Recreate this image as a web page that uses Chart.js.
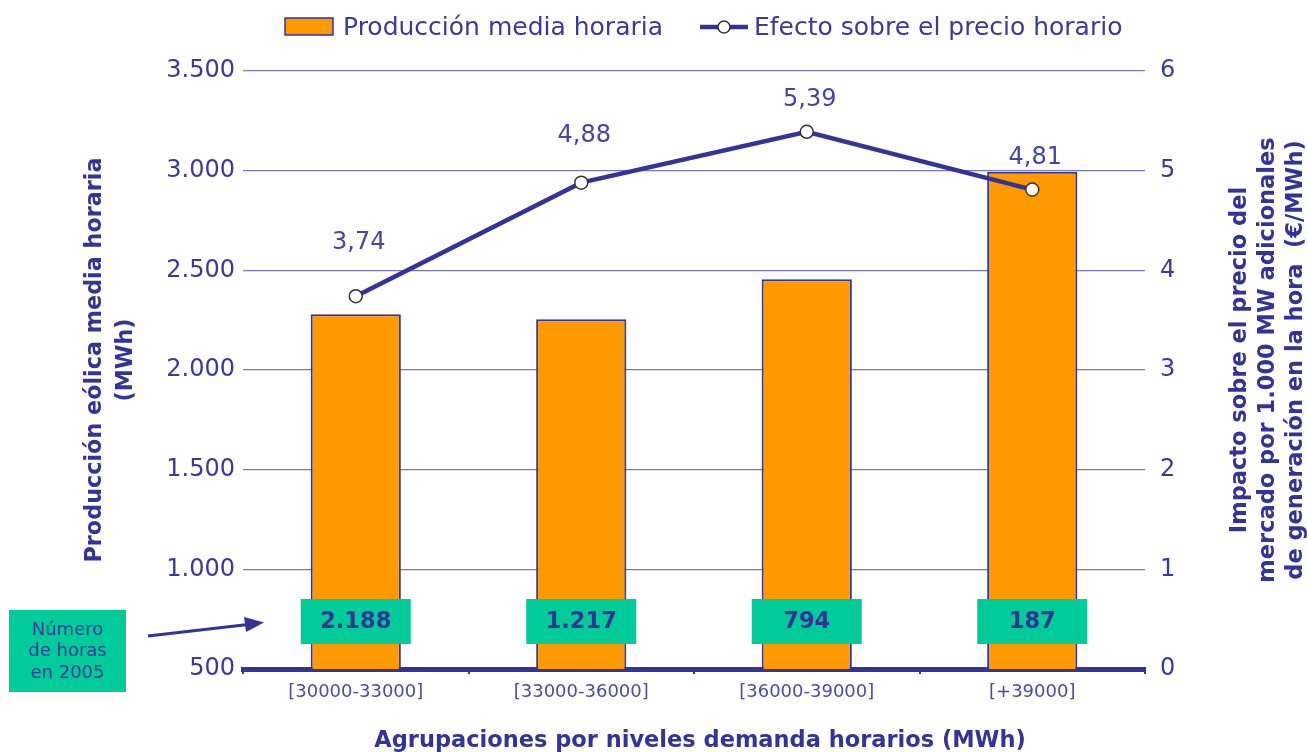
<!DOCTYPE html>
<html><head><meta charset="utf-8">
<script src="https://cdn.jsdelivr.net/npm/chart.js@4.4.1/dist/chart.umd.min.js"></script>
<style>html,body{margin:0;padding:0;background:#fff;}#wrap{width:1307px;height:752px;}</style>
</head><body><div id="wrap"><canvas id="c" width="1307" height="752"></canvas></div>
<script>
// ---- data ----
const categories = ['[30000-33000]', '[33000-36000]', '[36000-39000]', '[+39000]'];
const produccionMedia = [2280, 2255, 2455, 2995];      // MWh (left axis)
const efectoPrecio = [3.74, 4.88, 5.39, 4.81];         // €/MWh (right axis)
const numeroHoras = [2188, 1217, 794, 187];            // hours in 2005
const leftAxisMin = 500, leftAxisMax = 3500, leftAxisStep = 500;
const rightAxisMin = 0, rightAxisMax = 6, rightAxisStep = 1;
const seriesNames = ['Producción media horaria', 'Efecto sobre el precio horario'];
const xTitle = 'Agrupaciones por niveles demanda horarios (MWh)';
const leftTitle = ['Producción eólica media horaria', '(MWh)'];
const rightTitle = ['Impacto sobre el precio del', 'mercado por 1.000 MW adicionales', 'de generación en la hora  (€/MWh)'];
const noteLines = ['Número', 'de horas', 'en 2005'];

// ---- styles ----
const NAVY = '#333399';
const TXT = '#3a3a9c';
const ORANGE = '#ff9900';
const GREEN = '#00cc99';
const FONT = '"DejaVu Sans", Verdana, sans-serif';
const thousands = n => String(n).replace(/\B(?=(\d{3})+(?!\d))/g, '.');
const decimal = v => v.toFixed(2).replace('.', ',');

const overlay = {
  id: 'overlay',
  afterDraw(chart, args, o) {
    const ctx = chart.ctx;
    const xs = chart.scales.x;
    const area = chart.chartArea;
    ctx.save();
    // legend
    ctx.fillStyle = ORANGE; ctx.strokeStyle = NAVY; ctx.lineWidth = 1.5;
    ctx.fillRect(285, 18, 48, 17); ctx.strokeRect(285, 18, 48, 17);
    ctx.font = '25px ' + FONT; ctx.fillStyle = TXT; ctx.textBaseline = 'middle'; ctx.textAlign = 'left';
    ctx.fillText(seriesNames[0], 343, 28);
    ctx.strokeStyle = NAVY; ctx.lineWidth = 4.5;
    ctx.beginPath(); ctx.moveTo(700, 27); ctx.lineTo(748, 27); ctx.stroke();
    ctx.beginPath(); ctx.arc(724, 27, 6, 0, Math.PI * 2); ctx.fillStyle = '#fff'; ctx.fill();
    ctx.lineWidth = 1.5; ctx.strokeStyle = '#333'; ctx.stroke();
    ctx.fillStyle = TXT; ctx.fillText(seriesNames[1], 754, 28);

    // data labels on the line
    ctx.font = '24px ' + FONT; ctx.textAlign = 'center'; ctx.fillStyle = '#4444aa';
    const meta = chart.getDatasetMeta(1);
    meta.data.forEach((pt, i) => {
      ctx.fillText(decimal(efectoPrecio[i]), pt.x + 3, pt.y - o.labelOffsets[i]);
    });

    // green hour boxes
    ctx.font = 'bold 22.5px ' + FONT;
    numeroHoras.forEach((h, i) => {
      const cx = xs.getPixelForValue(i);
      const cy = area.bottom - 48;
      ctx.fillStyle = GREEN; ctx.fillRect(cx - 55, cy - 22, 110, 45);
      ctx.fillStyle = NAVY; ctx.fillText(thousands(h), cx, cy + 1);
    });

    // side note box
    ctx.fillStyle = GREEN; ctx.fillRect(9, 610, 117, 82);
    ctx.fillStyle = '#3a3a9c'; ctx.font = '18px ' + FONT;
    noteLines.forEach((t, i) => ctx.fillText(t, 67.5, 630 + i * 21.5));
    // arrow
    ctx.strokeStyle = NAVY; ctx.fillStyle = NAVY; ctx.lineWidth = 3;
    ctx.beginPath(); ctx.moveTo(148, 636); ctx.lineTo(248, 624.5); ctx.stroke();
    ctx.beginPath(); ctx.moveTo(264, 622.5); ctx.lineTo(244, 617); ctx.lineTo(246, 632); ctx.closePath(); ctx.fill();

    // axis titles
    ctx.fillStyle = NAVY; ctx.font = 'bold 22.5px ' + FONT;
    ctx.fillText(xTitle, 700, 741);
    const rot = (t, x, y) => { ctx.save(); ctx.translate(x, y); ctx.rotate(-Math.PI / 2); ctx.fillText(t, 0, 0); ctx.restore(); };
    ctx.font = 'bold 22.3px ' + FONT;
    rot(leftTitle[0], 95, 360); rot(leftTitle[1], 126, 360);
    ctx.font = 'bold 22.5px ' + FONT;
    rightTitle.forEach((t, i) => rot(t, 1240 + i * 28, 360));
    ctx.restore();
  }
};

new Chart(document.getElementById('c'), {
  data: {
    labels: categories,
    datasets: [
      { type: 'bar', label: seriesNames[0], data: produccionMedia, yAxisID: 'y',
        backgroundColor: ORANGE, borderColor: NAVY, borderWidth: 2,
        barPercentage: 0.4, categoryPercentage: 1, order: 2 },
      { type: 'line', label: seriesNames[1], data: efectoPrecio, yAxisID: 'y1',
        borderColor: NAVY, borderWidth: 4.5, pointRadius: 6.5, pointBorderWidth: 1.5,
        pointBackgroundColor: '#fff', pointBorderColor: '#333', tension: 0, order: 1 }
    ]
  },
  options: {
    responsive: false, animation: false, devicePixelRatio: 1,
    layout: { padding: { top: 71, left: 0, right: 0, bottom: 0 } },
    plugins: { legend: { display: false }, tooltip: { enabled: false },
      overlay: { labelOffsets: [53, 47, 32, 32] } },
    scales: {
      x: {
        offset: true,
        afterFit: s => { s.height = 83; },
        grid: { drawOnChartArea: false, drawTicks: true, tickLength: 5, color: NAVY, lineWidth: 2, offset: true },
        border: { display: true, color: NAVY, width: 5 },
        ticks: { color: '#4a4aaa', font: { family: FONT, size: 18 }, padding: 8 }
      },
      y: {
        position: 'left', min: leftAxisMin, max: leftAxisMax,
        afterFit: s => { s.width = 243; },
        grid: { color: '#7878bb', lineWidth: 1.2, drawTicks: false },
        border: { display: false },
        ticks: { stepSize: leftAxisStep, color: TXT, font: { family: FONT, size: 24 }, padding: 8,
          callback: v => thousands(v) }
      },
      y1: {
        position: 'right', min: rightAxisMin, max: rightAxisMax,
        afterFit: s => { s.width = 162; },
        grid: { display: false, drawTicks: false },
        border: { display: false },
        ticks: { stepSize: rightAxisStep, color: TXT, font: { family: FONT, size: 24 }, padding: 15 }
      }
    }
  },
  plugins: [overlay]
});
</script></body></html>
